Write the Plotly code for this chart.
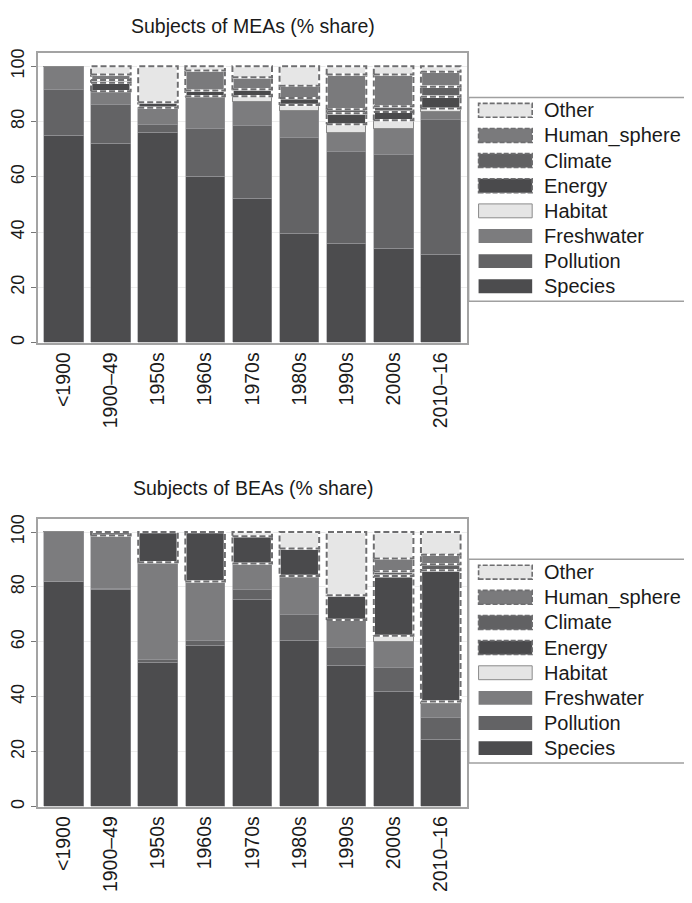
import numpy as np
import plotly.graph_objects as go
from plotly.subplots import make_subplots

# ---------------- data ----------------
periods = ["<1900", "1900–49", "1950s", "1960s", "1970s", "1980s", "1990s", "2000s", "2010–16"]
subjects = ["Species", "Pollution", "Freshwater", "Habitat", "Energy", "Climate", "Human_sphere", "Other"]

mea_species    = [75, 72, 76, 60, 52, 39.5, 36, 34, 32]
mea_pollution  = [16.5, 14, 3, 17.5, 26.5, 34.5, 33, 34, 48.5]
mea_freshwater = [8.5, 5, 6, 11, 8.7, 10, 7, 9.5, 3.2]
mea_habitat    = [0, 0, 0, 0.7, 2, 2, 3, 3, 1]
mea_energy     = [0, 3, 2, 2, 2.5, 2.5, 4, 3, 4.3]
mea_climate    = [0, 1, 0, 0, 0, 0, 1.5, 2, 3.6]
mea_human      = [0, 2, 0, 7.3, 4.3, 4.5, 12.5, 11.5, 5.4]
mea_other      = [0, 3, 13, 1.5, 4, 7, 3, 3, 2]

bea_species    = [82, 79, 52.5, 58.5, 75.5, 60.5, 51.3, 42, 24.6]
bea_pollution  = [0, 0.3, 1, 2, 3.5, 9.5, 6.7, 8.7, 8]
bea_freshwater = [18, 19.4, 35.5, 21.5, 9.5, 14, 10, 9.3, 4.9]
bea_habitat    = [0, 0, 0, 0, 0, 0, 0, 2.2, 0.8]
bea_energy     = [0, 1.3, 11, 18, 10, 10, 9, 21.8, 47.8]
bea_climate    = [0, 0, 0, 0, 0, 0, 0, 1.7, 2.2]
bea_human      = [0, 0, 0, 0, 0, 0, 0, 4.7, 3.4]
bea_other      = [0, 0, 0, 0, 1.5, 6, 23, 9.6, 8.3]

y_ticks = [0, 20, 40, 60, 80, 100]
titles = ["Subjects of MEAs (% share)", "Subjects of BEAs (% share)"]

# ---------------- styles ----------------
fills = {
    "Species": "#4c4c4e", "Pollution": "#636365", "Freshwater": "#7c7c7e",
    "Habitat": "#e5e5e5", "Energy": "#4a4a4c", "Climate": "#616163",
    "Human_sphere": "#7a7a7c", "Other": "#e6e6e6",
}
dashed = {"Energy", "Climate", "Human_sphere", "Other"}
BAR_W = 0.84
FONT = "Liberation Sans, Arial, Helvetica, sans-serif"
OFF = 8                      # default page body margin
W, H = 692 - OFF, 903 - OFF

mea = [mea_species, mea_pollution, mea_freshwater, mea_habitat, mea_energy, mea_climate, mea_human, mea_other]
bea = [bea_species, bea_pollution, bea_freshwater, bea_habitat, bea_energy, bea_climate, bea_human, bea_other]

fig = make_subplots(rows=2, cols=1)
x = np.arange(len(periods))

for row, data in ((1, mea), (2, bea)):
    arr = np.array(data, dtype=float)
    tops = np.cumsum(arr, axis=0)
    bottoms = tops - arr
    for k, name in enumerate(subjects):
        if name in dashed:
            line = dict(width=0)
        elif name == "Habitat":
            line = dict(width=1, color="#8a8a8a")
        else:
            line = dict(width=0.6, color="#9a9a9c")
        fig.add_trace(go.Bar(x=x, y=arr[k], name=name, width=BAR_W,
                             marker=dict(color=fills[name], line=line),
                             showlegend=False, hoverinfo="skip"), row=row, col=1)
    # dashed outlines for the dashed-outline series
    for k, name in enumerate(subjects):
        if name not in dashed:
            continue
        px, py = [], []
        for i in range(len(periods)):
            if arr[k, i] <= 0:
                continue
            x0, x1 = x[i] - BAR_W / 2, x[i] + BAR_W / 2
            y0, y1 = bottoms[k, i], tops[k, i]
            px += [x0, x1, x1, x0, x0, None]
            py += [y0, y0, y1, y1, y0, None]
        fig.add_trace(go.Scatter(x=px, y=py, mode="lines", line=dict(color="#ffffff", width=2.4),
                                 showlegend=False, hoverinfo="skip"), row=row, col=1)
        fig.add_trace(go.Scatter(x=px, y=py, mode="lines",
                                 line=dict(color="#6e6e70", width=2, dash="6px,3px"),
                                 showlegend=False, hoverinfo="skip"), row=row, col=1)

# ---------------- layout (screen pixel -> paper) ----------------
def sy(p):
    return 1 - (p - OFF) / H

def sx(p):
    return (p - OFF) / W

frames = [(49, 341), (518, 808)]
xdom = [sx(33), sx(465)]
for row, (t, b) in enumerate(frames, start=1):
    fig.update_xaxes(row=row, col=1, domain=xdom, range=[-0.55, 8.55],
                     tickvals=list(x), ticktext=periods, tickangle=-90,
                     tickfont=dict(family=FONT, size=19.5, color="#1a1a1a"),
                     showline=True, mirror=True, linecolor="#a3a3a3", linewidth=1.5,
                     showgrid=False, zeroline=False, ticks="")
    fig.update_yaxes(row=row, col=1, domain=[sy(b), sy(t)],
                     range=[0, 104.9], tickvals=y_ticks, tickangle=-90,
                     tickfont=dict(family=FONT, size=18, color="#1a1a1a"),
                     ticks="outside", ticklen=5, tickcolor="#777777",
                     showline=True, mirror=True, linecolor="#a3a3a3", linewidth=1.5,
                     showgrid=True, gridcolor="#ececec", zeroline=False)

annotations = []
for title, ty in zip(titles, (22, 487)):
    annotations.append(dict(text=title, xref="paper", yref="paper", x=sx(250), y=sy(ty),
                            xanchor="center", yanchor="middle", showarrow=False,
                            font=dict(family=FONT, size=19.5, color="#1a1a1a")))

shapes = []
legend_order = subjects[::-1]
for box_top, first_y in ((94, 107), (559, 572)):
    step = 25.3
    box_bottom = first_y + step * 7 + 15
    shapes.append(dict(type="rect", xref="paper", yref="paper",
                       x0=sx(467), x1=sx(720), y0=sy(box_bottom), y1=sy(box_top),
                       line=dict(color="#a0a0a0", width=1.5), fillcolor="rgba(0,0,0,0)", layer="above"))
    for j, name in enumerate(legend_order):
        cy = first_y + j * step
        if name in dashed:
            ln = dict(color="#6e6e70", width=1.6, dash="5px,2px")
        elif name == "Habitat":
            ln = dict(color="#8a8a8a", width=1)
        else:
            ln = dict(color=fills[name], width=0)
        shapes.append(dict(type="rect", xref="paper", yref="paper",
                           x0=sx(477), x1=sx(531), y0=sy(cy + 7), y1=sy(cy - 7),
                           fillcolor=fills[name], line=ln, layer="above"))
        annotations.append(dict(text=name, xref="paper", yref="paper", x=sx(541), y=sy(cy),
                                xanchor="left", yanchor="middle", showarrow=False,
                                font=dict(family=FONT, size=20, color="#1a1a1a")))

fig.update_layout(width=W, height=H, margin=dict(l=0, r=0, t=0, b=0),
                  barmode="stack", bargap=0, plot_bgcolor="white", paper_bgcolor="white",
                  showlegend=False, annotations=annotations, shapes=shapes,
                  font=dict(family=FONT))

fig.write_html("out.html")
